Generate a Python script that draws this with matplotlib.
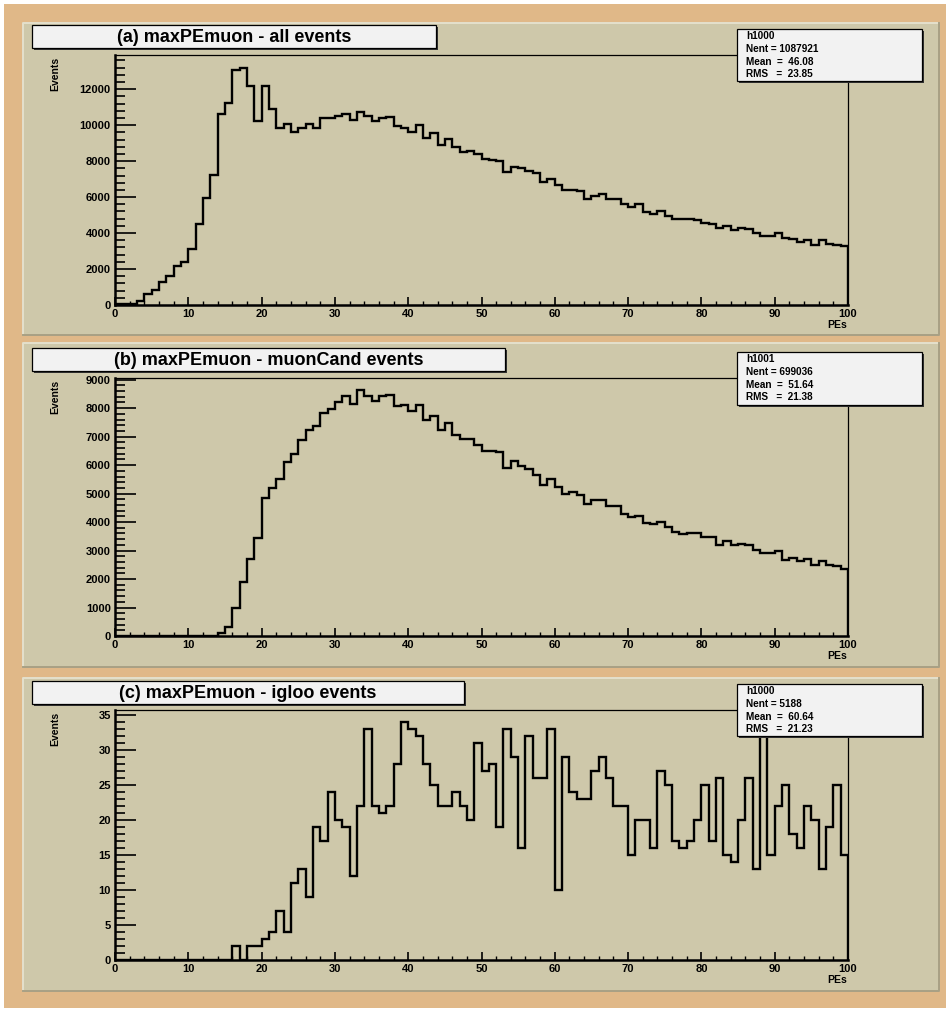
import numpy as np
import matplotlib.pyplot as plt
from matplotlib.patches import Rectangle
from matplotlib.ticker import MultipleLocator

W, H = 946, 1010

# bin edges, 1 PE per bin from 0 to 100
edges = np.arange(0, 101)

# (a) all events
all_events = [30, 50, 70, 250, 600, 860, 1280, 1630, 2180, 2400,
              3100, 4530, 5960, 7210, 10620, 11250, 13070, 13160, 12150, 10220,
              12150, 10900, 9820, 10080, 9630, 9820, 10080, 9860, 10370, 10420,
              10510, 10610, 10260, 10740, 10510, 10220, 10370, 10440, 9960, 9860,
              9630, 10000, 9270, 9580, 8900, 9230, 8770, 8500, 8570, 8390,
              8090, 8050, 8000, 7400, 7680, 7590, 7460, 7350, 6850, 7030,
              6660, 6380, 6380, 6340, 5880, 6050, 6190, 5880, 5880, 5600,
              5450, 5600, 5170, 5080, 5230, 4950, 4760, 4760, 4800, 4740,
              4560, 4520, 4300, 4370, 4150, 4260, 4220, 4020, 3830, 3810,
              4000, 3740, 3680, 3530, 3590, 3310, 3630, 3370, 3330, 3260]

# (b) muonCand events
muon_cand = [0] * 14 + [100, 330, 990, 1880, 2720, 3430,
              4860, 5210, 5530, 6110, 6380, 6870, 7250, 7380, 7830, 7960,
              8220, 8420, 8160, 8630, 8430, 8240, 8430, 8480, 8080, 8120,
              7890, 8100, 7580, 7720, 7220, 7490, 7070, 6930, 6930, 6700,
              6500, 6490, 6460, 5900, 6140, 5960, 5860, 5650, 5320, 5530,
              5240, 4970, 5060, 4940, 4630, 4770, 4760, 4570, 4550, 4270,
              4180, 4210, 3970, 3940, 4010, 3830, 3640, 3590, 3610, 3600,
              3480, 3460, 3210, 3340, 3190, 3230, 3190, 3020, 2900, 2900,
              2980, 2670, 2750, 2630, 2700, 2510, 2630, 2510, 2470, 2370]

# (c) igloo events
igloo = [0] * 16 + [2, 0, 2, 2,
         3, 4, 7, 4, 11, 13, 9, 19, 17, 24,
         20, 19, 12, 22, 33, 22, 21, 22, 28, 34,
         33, 32, 28, 25, 22, 22, 24, 22, 20, 31,
         27, 28, 19, 33, 29, 16, 32, 26, 26, 33,
         10, 29, 24, 23, 23, 27, 29, 26, 22, 22,
         15, 20, 20, 16, 27, 25, 17, 16, 17, 20,
         25, 17, 26, 15, 14, 20, 26, 13, 34, 15,
         22, 25, 18, 16, 22, 20, 13, 19, 25, 15]

titles = ["(a) maxPEmuon - all events",
          "(b) maxPEmuon - muonCand events",
          "(c) maxPEmuon - igloo events"]
stats = [["h1000", "Nent = 1087921", "Mean  =  46.08", "RMS   =  23.85"],
         ["h1001", "Nent = 699036", "Mean  =  51.64", "RMS   =  21.38"],
         ["h1000", "Nent = 5188", "Mean  =  60.64", "RMS   =  21.23"]]
ymax = [13900, 9060, 35.7]
ymajor = [2000, 1000, 5]
yminor = [400, 200, 1]

# layout in pixels (x0, y0, x1, y1)
pads = [(23, 23, 939, 335), (23, 343, 939, 667), (23, 678, 939, 991)]
frames = [(115, 55, 848, 305), (115, 378, 848, 636), (115, 710, 848, 960)]
title_boxes = [(32, 25, 436, 48), (32, 348, 505, 371), (32, 681, 464, 704)]
stat_boxes = [(737, 29, 922, 81), (737, 352, 922, 405), (737, 684, 922, 736)]

outer_col = '#E0B888'
pad_col = '#CEC8AA'

plt.rcParams['font.family'] = ['Liberation Sans', 'DejaVu Sans']

fig = plt.figure(figsize=(W / 100, H / 100), dpi=100, facecolor='white')


def pix_axes(z):
    a = fig.add_axes([0, 0, 1, 1], zorder=z)
    a.set_xlim(0, W)
    a.set_ylim(H, 0)
    a.axis('off')
    a.patch.set_alpha(0)
    return a


bg = pix_axes(0)
fg = pix_axes(10)

bg.add_patch(Rectangle((4, 4), W - 4, H - 6, color=outer_col, lw=0))


def boxed(a, x0, y0, x1, y1):
    a.add_patch(Rectangle((x0 + 2, y0 + 2), x1 - x0, y1 - y0, color='#333333', lw=0))
    a.add_patch(Rectangle((x0, y0), x1 - x0, y1 - y0, facecolor='#F2F2F2',
                          edgecolor='black', lw=0.9))


for i in range(3):
    x0, y0, x1, y1 = pads[i]
    bg.add_patch(Rectangle((x0, y0), x1 - x0, y1 - y0, color=pad_col, lw=0))
    bg.plot([x0, x0, x1], [y1, y0, y0], color='#E4E0CC', lw=1.4)
    bg.plot([x0, x1, x1], [y1, y1, y0], color='#A8A084', lw=1.4)

    fx0, fy0, fx1, fy1 = frames[i]
    ax = fig.add_axes([fx0 / W, 1 - fy1 / H, (fx1 - fx0) / W, (fy1 - fy0) / H], zorder=5)
    ax.patch.set_alpha(0)
    data = [all_events, muon_cand, igloo][i]
    ax.stairs(data, edges, baseline=0, color='black', lw=1.7)
    ax.set_xlim(0, 100)
    ax.set_ylim(0, ymax[i])
    ax.xaxis.set_major_locator(MultipleLocator(10))
    ax.xaxis.set_minor_locator(MultipleLocator(2))
    ax.yaxis.set_major_locator(MultipleLocator(ymajor[i]))
    ax.yaxis.set_minor_locator(MultipleLocator(yminor[i]))
    ax.tick_params(axis='y', which='major', direction='in', length=15, width=1.2,
                   labelsize=8, pad=3, right=False)
    ax.tick_params(axis='y', which='minor', direction='in', length=7.5, width=1.2, right=False)
    ax.tick_params(axis='x', which='major', direction='in', length=6, width=1.2,
                   labelsize=8, pad=3, top=False)
    ax.tick_params(axis='x', which='minor', direction='in', length=3, width=1.0, top=False)
    for lab in ax.get_xticklabels() + ax.get_yticklabels():
        lab.set_fontweight('bold')
    ax.spines['left'].set_linewidth(1.8)
    ax.spines['bottom'].set_linewidth(1.8)
    ax.spines['top'].set_linewidth(0.9)
    ax.spines['right'].set_linewidth(0.9)

    fg.text(55, fy0 + 2, "Events", rotation=90, ha='center', va='top',
            fontsize=7.5, fontweight='bold')
    fg.text(847, fy1 + 20, "PEs", ha='right', va='center', fontsize=7.5, fontweight='bold')

    tx0, ty0, tx1, ty1 = title_boxes[i]
    boxed(fg, tx0, ty0, tx1, ty1)
    fg.text((tx0 + tx1) / 2, (ty0 + ty1) / 2 + 1, titles[i], ha='center', va='center',
            fontsize=13, fontweight='bold')

    sx0, sy0, sx1, sy1 = stat_boxes[i]
    boxed(fg, sx0, sy0, sx1, sy1)
    for k, line in enumerate(stats[i]):
        fg.text(sx0 + 9, sy0 + 7 + k * 12.8, line, ha='left', va='center',
                fontsize=7.2, fontweight='bold')

fig.savefig('out.png', dpi=100, facecolor='white')
